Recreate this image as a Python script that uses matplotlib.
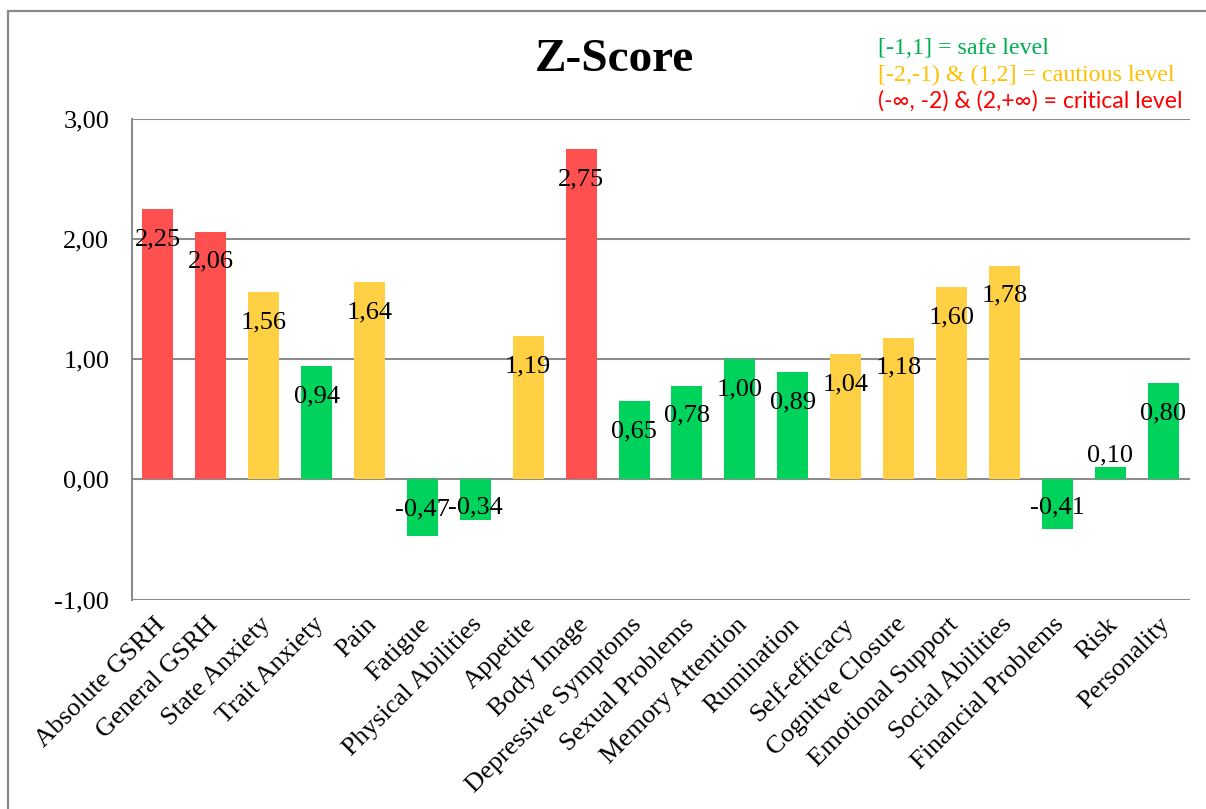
import matplotlib
matplotlib.use("Agg")
import matplotlib.pyplot as plt
import matplotlib.transforms as mtransforms
from matplotlib.patches import Rectangle

categories = [
    "Absolute GSRH", "General GSRH", "State Anxiety", "Trait Anxiety", "Pain",
    "Fatigue", "Physical Abilities", "Appetite", "Body Image",
    "Depressive Symptoms", "Sexual Problems", "Memory Attention", "Rumination",
    "Self-efficacy", "Cognitve Closure", "Emotional Support", "Social Abilities",
    "Financial Problems", "Risk", "Personality",
]
z_scores = [2.25, 2.06, 1.56, 0.94, 1.64, -0.47, -0.34, 1.19, 2.75, 0.65,
            0.78, 1.00, 0.89, 1.04, 1.18, 1.60, 1.78, -0.41, 0.10, 0.80]
y_ticks = [-1, 0, 1, 2, 3]

RED, YELLOW, GREEN = "#FF5050", "#FFD044", "#00D35C"


def level_color(v):
    a = abs(v)
    if a <= 1:
        return GREEN
    if a <= 2:
        return YELLOW
    return RED


def comma(v):
    return f"{v:.2f}".replace(".", ",")


SERIF = "Liberation Serif"
W, H = 1206, 809
fig = plt.figure(figsize=(W / 100, H / 100), dpi=100)
fig.patch.set_facecolor("white")

# chart-area border
fig.add_artist(Rectangle((8 / W, -0.5), 2.0, 0.5 + (1 - 11 / H),
                         transform=fig.transFigure, fill=False,
                         edgecolor="#898989", linewidth=1.6))

ax = fig.add_axes([131.5 / W, 1 - 599.5 / H, 1058 / W, 480.5 / H])
x = list(range(len(categories)))
ax.bar(x, z_scores, width=0.586, color=[level_color(v) for v in z_scores],
       zorder=3)
ax.set_xlim(-0.5, len(categories) - 0.5)
ax.set_ylim(-1, 3)
ax.set_yticks(y_ticks)
ax.set_yticklabels([comma(t) for t in y_ticks], fontfamily=SERIF, fontsize=19)
ax.yaxis.grid(True, color="#8c8c8c", linewidth=1.5, zorder=1)
ax.tick_params(axis="y", length=0, pad=16)
ax.tick_params(axis="x", length=0, pad=10)
for s in ("top", "right", "bottom"):
    ax.spines[s].set_visible(False)
ax.spines["left"].set_color("#8c8c8c")
ax.spines["left"].set_linewidth(1.5)

ax.set_xticks(x)
ax.set_xticklabels(categories, rotation=45, ha="right", va="top",
                   rotation_mode="anchor", fontfamily=SERIF, fontsize=19)
shift = mtransforms.ScaledTranslation(-4 / 100, 0, fig.dpi_scale_trans)
for lbl in ax.get_xticklabels():
    lbl.set_transform(lbl.get_transform() + shift)

# value labels
for xi, v in zip(x, z_scores):
    if v >= 0:
        y = v - 0.25 if v > 0.5 else v + 0.1
    else:
        y = min(v + 0.22, -0.23)
    ax.text(xi, y, comma(v), ha="center", va="center", fontfamily=SERIF,
            fontsize=19, zorder=4)

fig.text(614 / W, 1 - 60 / H, "Z-Score", ha="center", va="center",
         fontfamily=SERIF, fontweight="bold", fontsize=34)

fig.text(878 / W, 1 - 48 / H, "[-1,1] = safe level", ha="left", va="center",
         fontfamily=SERIF, fontsize=17.3, color="#00B050")
fig.text(878 / W, 1 - 75 / H, "[-2,-1) & (1,2] = cautious level", ha="left",
         va="center", fontfamily=SERIF, fontsize=17.3, color="#FFC000")
fig.text(878 / W, 1 - 101 / H, "(-\u221e, -2) & (2,+\u221e) = critical level",
         ha="left", va="center", fontfamily=["Lato", "DejaVu Sans"],
         fontsize=16.6, color="#FF0000")

fig.savefig("out.png", dpi=100, facecolor="white")
